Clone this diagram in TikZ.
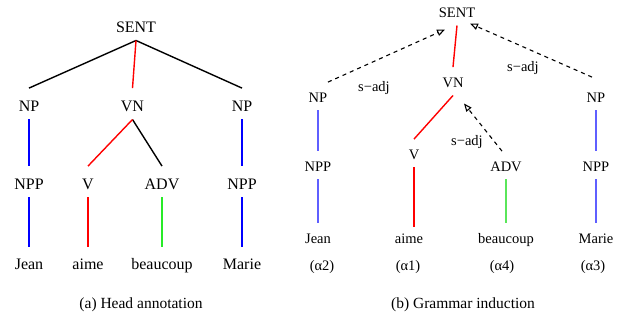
\documentclass[tikz,border=0pt]{standalone}
\usepackage{fontspec}
\setmainfont{Liberation Serif}
\usetikzlibrary{arrows.meta}

\definecolor{lblue}{RGB}{95,95,255}
\definecolor{lgreen}{RGB}{90,230,90}
\definecolor{hgreen}{RGB}{40,235,40}

\tikzset{
  lcat/.style={font=\fontsize{16}{16}\selectfont, anchor=base, inner sep=0pt,
    inner ysep=3.5pt, text height=19pt, text depth=4pt},
  rcat/.style={font=\fontsize{14.5}{14.5}\selectfont, anchor=base, inner sep=0pt,
    inner ysep=3pt, text height=17pt, text depth=4pt},
  rlab/.style={font=\fontsize{14.5}{14.5}\selectfont, inner sep=0pt},
  subcap/.style={font=\fontsize{15.5}{15.5}\selectfont, inner sep=0pt},
  adj/.style={line width=1.1pt, dash pattern=on 4pt off 4pt,
    -{Triangle[open,length=8pt,width=6.5pt]}},
}

\begin{document}
\begin{tikzpicture}[x=1pt, y=-1pt, line width=1.4pt]
\useasboundingbox (0,0) rectangle (621,320);

% (a) head annotation
\node[lcat] (sent) at (136,32.3) {SENT};
\node[lcat] (np1) at (29,111.3) {NP};
\node[lcat] (vn) at (132.5,111.3) {VN};
\node[lcat] (np2) at (242,111.3) {NP};
\node[lcat] (npp1) at (29,189.3) {NPP};
\node[lcat] (v) at (88,189.3) {V};
\node[lcat] (adv) at (162,189.3) {ADV};
\node[lcat] (npp2) at (242,189.3) {NPP};
\node[lcat] (jean) at (29,270) {Jean};
\node[lcat] (aime) at (88,270) {aime};
\node[lcat] (beau) at (162,270) {beaucoup};
\node[lcat] (marie) at (242,270) {Marie};

\draw (sent.south) -- (np1.north);
\draw (sent.south) -- (np2.north);
\draw (vn.south) -- (adv.north);
\begin{scope}[red]
\draw (sent.south) -- (vn.north);
\draw (vn.south) -- (v.north);
\draw (v.south) -- (aime.north);
\end{scope}
\begin{scope}[blue]
\draw (np1.south) -- (npp1.north);
\draw (npp1.south) -- (jean.north);
\draw (np2.south) -- (npp2.north);
\draw (npp2.south) -- (marie.north);
\end{scope}
\draw[hgreen] (adv.south) -- (beau.north);

\node[subcap] (capa) at (141,305) {(a) Head annotation};

% (b) grammar induction
\node[rcat] (sentb) at (457,17.8) {SENT};
\node[rcat] (vnb) at (453,87.8) {VN};
\node[rcat] (npb1) at (318,102.8) {NP};
\node[rcat] (npb2) at (596,102.8) {NP};
\node[rcat] (vb) at (414,159.8) {V};
\node[rcat] (nppb1) at (318,171.8) {NPP};
\node[rcat] (advb) at (506,171.8) {ADV};
\node[rcat] (nppb2) at (596,171.8) {NPP};
\node[rcat] (jeanb) at (318,244) {Jean};
\node[rcat] (aimeb) at (409,243.5) {aime};
\node[rcat] (beaub) at (506,244) {beaucoup};
\node[rcat] (marieb) at (596,244) {Marie};

\begin{scope}[red]
\draw (sentb.south) -- (vnb.north);
\draw (vnb.south) -- (vb.north);
\draw (vb.south) -- ([yshift=-4pt]vb.south |- aimeb.north);
\end{scope}
\begin{scope}[lblue]
\draw (npb1.south) -- (nppb1.north);
\draw (nppb1.south) -- (jeanb.north);
\draw (npb2.south) -- (nppb2.north);
\draw (nppb2.south) -- (marieb.north);
\end{scope}
\draw[lgreen] (advb.south) -- (beaub.north);

\draw[adj] (npb1.north east) -- ([xshift=-12pt,yshift=-4pt]sentb.south);
\draw[adj] ([xshift=-4pt,yshift=5pt]npb2.north) -- ([xshift=13pt,yshift=2pt]sentb.south);
\draw[adj] ([xshift=-4pt]advb.north) -- ([xshift=11pt,yshift=-8pt]vnb.south);

\node[rlab] (sa1) at (374,88) {s−adj};
\node[rlab] (sa2) at (523,68) {s−adj};
\node[rlab] (sa3) at (467,142) {s−adj};

\node[rlab] (al2) at (322,267) {(α2)};
\node[rlab] (al1) at (408,267) {(α1)};
\node[rlab] (al4) at (502,267) {(α4)};
\node[rlab] (al3) at (593,267) {(α3)};

\node[subcap] (capb) at (463,305) {(b) Grammar induction};
\end{tikzpicture}
\end{document}
